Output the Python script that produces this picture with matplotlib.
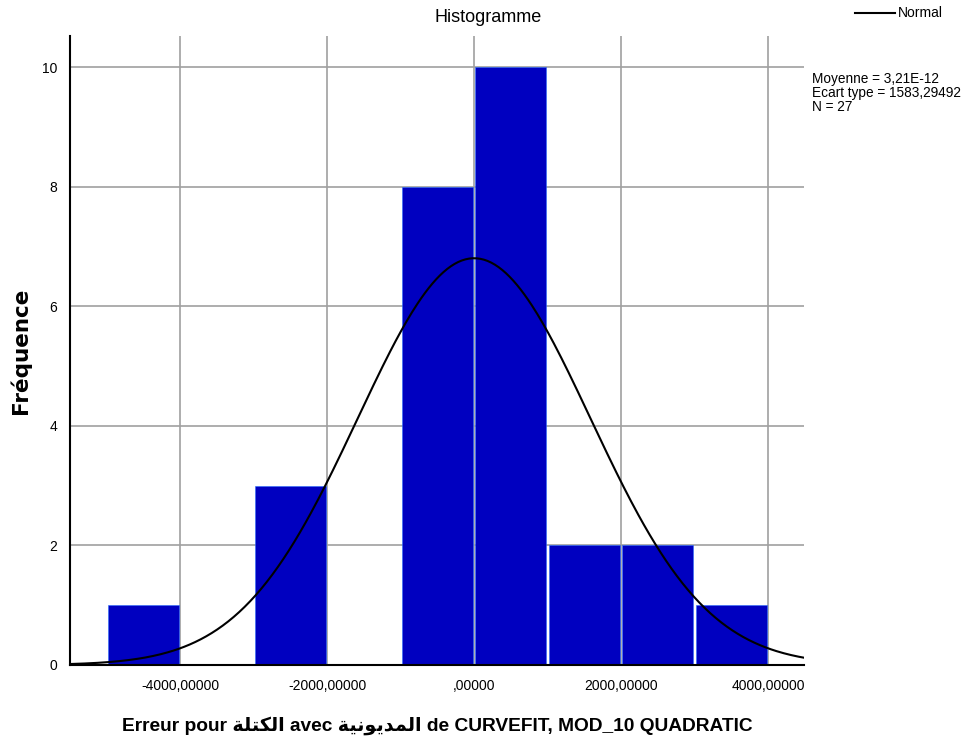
import numpy as np
import matplotlib
matplotlib.use('Agg')
import matplotlib.pyplot as plt

plt.rcParams['font.family'] = ['Liberation Sans', 'DejaVu Sans']

# Histogramme des erreurs (SPSS)
bin_left = [-5000, -4000, -3000, -2000, -1000, 0, 1000, 2000, 3000]
counts = [1, 0, 3, 0, 8, 10, 2, 2, 1]
bin_width = 1000
mean = 3.21e-12
std = 1583.29492
n = 27

x_ticks = [-4000, -2000, 0, 2000, 4000]
x_tick_labels = ['-4000,00000', '-2000,00000', ',00000', '2000,00000', '4000,00000']
y_ticks = [0, 2, 4, 6, 8, 10]

# mots arabes (forme logique) -> formes de présentation en ordre visuel,
# matplotlib ne fait pas le shaping
word_masse = 'الكتلة'
word_dette = 'المديونية'
masse_vis = '\ufe94\ufee0\ufe98\ufedc\ufedf\ufe8d'
dette_vis = '\ufe94\ufef4\ufee7\ufeee\ufef3\ufeaa\ufee4\ufedf\ufe8d'
xlabel = 'Erreur pour ' + masse_vis + ' avec ' + dette_vis + ' de CURVEFIT, MOD_10 QUADRATIC'

fig = plt.figure(figsize=(9.66, 7.46), dpi=100)
ax = fig.add_axes([70 / 966, 81 / 746, 734 / 966, 629 / 746])

centers = np.array(bin_left) + bin_width / 2
ax.bar(centers, counts, width=bin_width * 0.965, color='#0000c0',
       edgecolor='#2a6cff', linewidth=0.4, zorder=2)

xs = np.linspace(-5500, 4490, 400)
ys = n * bin_width / (std * np.sqrt(2 * np.pi)) * np.exp(-0.5 * ((xs - mean) / std) ** 2)
ax.plot(xs, ys, color='black', lw=1.5, zorder=3)

ax.set_xlim(-5500, 4490)
ax.set_ylim(0, 10.52)
ax.set_xticks(x_ticks)
ax.set_xticklabels(x_tick_labels)
ax.set_yticks(y_ticks)
ax.tick_params(axis='both', length=0, labelsize=10)
ax.tick_params(axis='x', pad=10)
ax.tick_params(axis='y', pad=9)
ax.grid(True, color='#a0a0a0', lw=1.2, zorder=1)
ax.set_axisbelow(True)
for s in ['top', 'right']:
    ax.spines[s].set_visible(False)
for s in ['left', 'bottom']:
    ax.spines[s].set_linewidth(1.5)
    ax.spines[s].set_zorder(4)

ax.set_ylabel('Fréquence', family='DejaVu Sans', fontweight='bold', fontsize=15.5, labelpad=8)
ax.set_xlabel(xlabel, fontweight='bold', fontsize=13.8, labelpad=17)

fig.text(0.505, 1 - 17 / 746, 'Histogramme', ha='center', va='center', fontsize=13)

# légende "Normal"
fig.lines.append(plt.Line2D([855 / 966, 895 / 966], [1 - 13 / 746] * 2, color='black', lw=1.5,
                            transform=fig.transFigure))
fig.text(898 / 966, 1 - 13 / 746, 'Normal', ha='left', va='center', fontsize=10)

stats = 'Moyenne = 3,21E-12\nEcart type = 1583,29492\nN = 27'
fig.text(812 / 966, 1 - 72 / 746, stats, ha='left', va='top', fontsize=9.8, linespacing=1.02)

fig.savefig('out.png', dpi=100)
